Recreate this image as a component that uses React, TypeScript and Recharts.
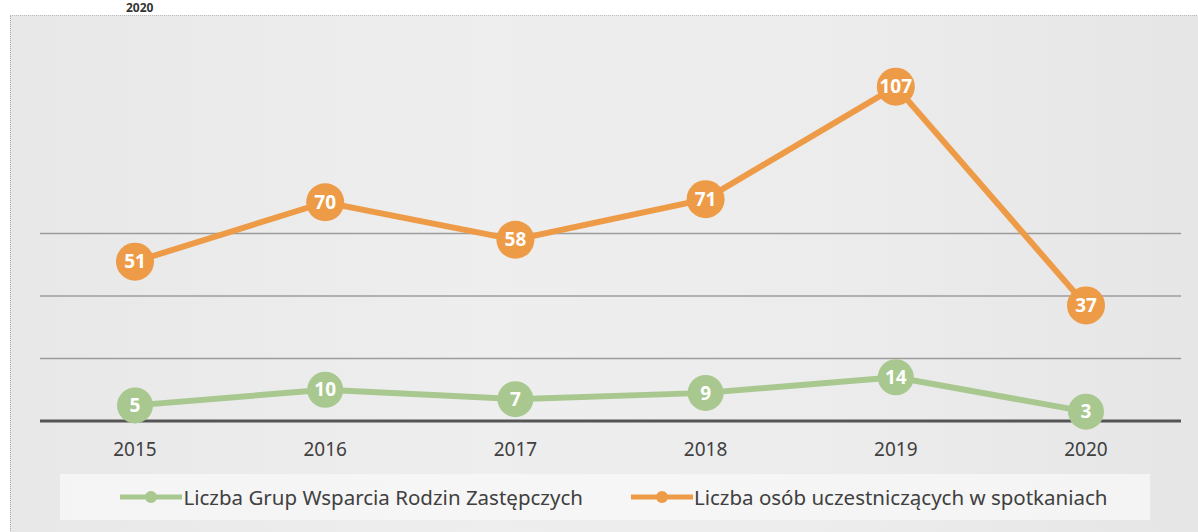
import { LabelList, Legend, Line, LineChart, ReferenceLine, XAxis, YAxis } from "recharts";

const years = ["2015", "2016", "2017", "2018", "2019", "2020"];
const supportGroups = [5, 10, 7, 9, 14, 3];
const participants = [51, 70, 58, 71, 107, 37];
const gridLevels = [20, 40, 60];

const GREEN = "#a8c890";
const ORANGE = "#ee9b48";

const data = years.map((year, i) => ({
  year,
  groups: supportGroups[i],
  people: participants[i]
}));

const seriesNames: Record<string, string> = {
  groups: "Liczba Grup Wsparcia Rodzin Zastępczych",
  people: "Liczba osób uczestniczących w spotkaniach"
};

function BigDot(props: any) {
  const { cx, cy, fill, r } = props;
  if (cx == null || cy == null) return null;
  return <circle cx={cx} cy={cy} r={r} fill={fill} />;
}

function LegendBox(props: any) {
  const payload = props.payload || [];
  return (
    <div
      style={{
        display: "flex",
        justifyContent: "center",
        gap: 48,
        height: 46,
        alignItems: "center",
        background: "rgba(250,250,250,0.7)",
        paddingLeft: 18
      }}
    >
      {payload.map((p: any) => (
        <div key={p.dataKey} style={{ display: "flex", alignItems: "center" }}>
          <svg width={62} height={20}>
            <line x1={0} y1={10} x2={62} y2={10} stroke={p.color} strokeWidth={5} />
            <circle cx={31} cy={10} r={6} fill={p.color} />
          </svg>
          <span style={{ color: "#404040", fontSize: 20.5, marginLeft: 1 }}>
            {seriesNames[p.dataKey]}
          </span>
        </div>
      ))}
    </div>
  );
}

export default function App() {
  return (
    <div
      style={{
        position: "absolute",
        left: 0,
        top: 0,
        width: 1198,
        height: 532,
        background: "#ffffff",
        overflow: "hidden",
        fontFamily: "'Noto Sans', sans-serif"
      }}
    >
      <div
        style={{
          position: "absolute",
          left: 126,
          top: 2,
          fontWeight: 700,
          fontSize: 12,
          lineHeight: 1,
          color: "#333"
        }}
      >
        2020
      </div>
      <div
        style={{
          position: "absolute",
          left: 10,
          top: 15,
          width: 1188,
          height: 517,
          borderTop: "1px dotted #bbb",
          borderLeft: "1px dotted #aaa",
          background: "linear-gradient(90deg, #e8e8e9 0%, #eeeeee 40%, #ececec 70%, #e6e6e7 100%)"
        }}
      />
      <div style={{ position: "absolute", left: 0, top: 0 }}>
        <LineChart
          width={1198}
          height={532}
          data={data}
          margin={{ top: 46, right: 17, left: 40, bottom: 35 }}
        >
          {gridLevels.map((v) => (
            <ReferenceLine key={v} y={v} stroke="#9c9c9c" strokeWidth={1.5} />
          ))}
          <XAxis
            dataKey="year"
            padding={{ left: 95, right: 95 }}
            axisLine={{ stroke: "#555", strokeWidth: 3 }}
            tickLine={false}
            tick={{ fill: "#404040", fontSize: 19 }}
            tickMargin={16}
            height={30}
          />
          <YAxis hide domain={[0, 120]} />
          <Legend
            verticalAlign="bottom"
            content={<LegendBox />}
            wrapperStyle={{ top: 474, left: 60, width: 1090 }}
          />
          <Line
            dataKey="groups"
            stroke={GREEN}
            strokeWidth={6}
            dot={<BigDot r={18} fill={GREEN} />}
            activeDot={false}
            isAnimationActive={false}
          >
            <LabelList
              dataKey="groups"
              position="center"
              fill="#ffffff"
              fontSize={19}
              fontWeight={700}
            />
          </Line>
          <Line
            dataKey="people"
            stroke={ORANGE}
            strokeWidth={6}
            dot={<BigDot r={19} fill={ORANGE} />}
            activeDot={false}
            isAnimationActive={false}
          >
            <LabelList
              dataKey="people"
              position="center"
              fill="#ffffff"
              fontSize={19}
              fontWeight={700}
            />
          </Line>
        </LineChart>
      </div>
    </div>
  );
}
